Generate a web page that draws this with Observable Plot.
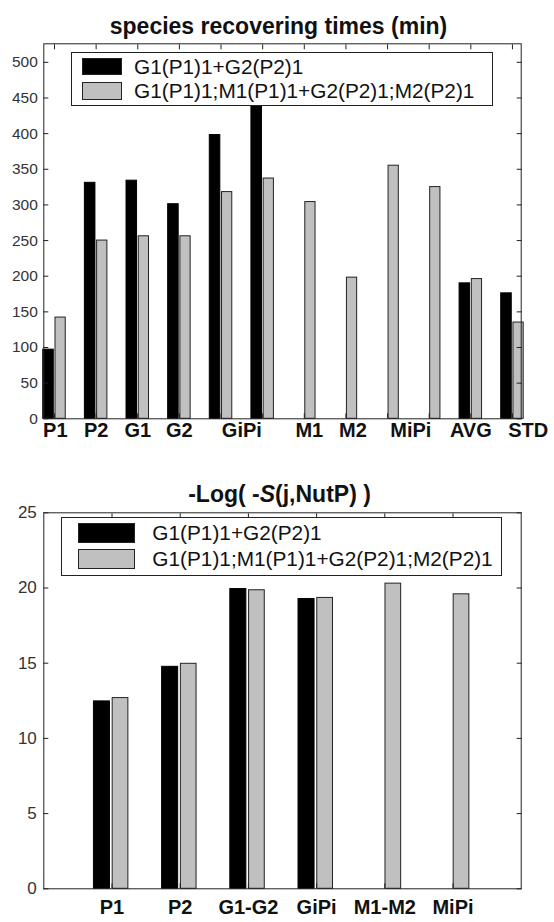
<!DOCTYPE html>
<html><head><meta charset="utf-8">
<script src="https://cdn.jsdelivr.net/npm/d3@7"></script>
<script src="https://cdn.jsdelivr.net/npm/@observablehq/plot@0.6"></script>
<style>
html,body{margin:0;padding:0;background:#fff;}
body{width:554px;height:922px;overflow:hidden;font-family:"Liberation Sans",Arial,sans-serif;}
.panel{position:relative;width:554px;}
.panel svg{display:block;}
.legend{position:absolute;background:#fff;border:1px solid #222;box-sizing:border-box;}
.sw{position:absolute;box-sizing:border-box;border:1px solid #222;}
.lt{position:absolute;font-size:20.8px;line-height:24px;color:#111;white-space:nowrap;}
</style></head><body>
<div id="top" class="panel"></div>
<div id="bottom" class="panel"></div>
<script>
// ---------- data: chart 1 ----------
const title1 = "species recovering times (min)";
const groups1 = [1, 2, 3, 4, 5, 6, 7, 8, 9, 10, 11, 12];
const recoverA = [97, 331, 334, 301, 398, 470, 0, 0, 0, 0, 190, 176];
const recoverB = [142, 250, 256, 256, 318, 337, 304, 198, 355, 325, 196, 135];
const labels1 = ["P1", "P2", "G1", "G2", "GiPi", "M1", "M2", "MiPi", "AVG", "STD"];
const labelPos1 = [1.02, 2, 3, 4, 5.5, 7.12, 8.17, 9.56, 11, 12.38];
const yTicks1 = [0, 50, 100, 150, 200, 250, 300, 350, 400, 450, 500];

// ---------- data: chart 2 ----------
const title2 = "-Log( -S(j,NutP) )";
const cats2 = ["P1", "P2", "G1-G2", "GiPi", "M1-M2", "MiPi"];
const groups2 = [1, 2, 3, 4, 5, 6];
const logA = [12.46, 14.76, 19.93, 19.27, 0, 0];
const logB = [12.68, 14.96, 19.85, 19.34, 20.29, 19.58];
const yTicks2 = [0, 5, 10, 15, 20, 25];

const seriesNames = ["G1(P1)1+G2(P2)1", "G1(P1)1;M1(P1)1+G2(P2)1;M2(P2)1"];
const seriesColors = ["#000000", "#c0c0c0"];

const FONT = "'Liberation Sans', Arial, sans-serif";
const blank = () => "";

// ---------- chart 1 ----------
const d1 = groups1.map((g, i) => ({g, a: recoverA[i], b: recoverB[i]}));
const p1 = Plot.plot({
  width: 554, height: 470,
  marginTop: 43.3, marginLeft: 43.3, marginRight: 33.3, marginBottom: 51.7,
  x: {domain: [0.743, 12.21]},
  y: {domain: [0, 526]},
  style: {fontFamily: FONT, background: "#fff", color: "#222"},
  marks: [
    Plot.rectY(d1.filter(d => d.a > 0), {x1: d => d.g - 0.27, x2: d => d.g - 0.017, y1: 0, y2: "a", fill: seriesColors[0], stroke: "#000", strokeWidth: 1}),
    Plot.rectY(d1.filter(d => d.b > 0), {x1: d => d.g + 0.024, x2: d => d.g + 0.27, y1: 0, y2: "b", fill: seriesColors[1], stroke: "#222", strokeWidth: 1}),
    Plot.axisY({anchor: "left", ticks: yTicks1, tickSize: 0, tickPadding: 6, fontSize: 15.5, fill: "#333", label: null}),
    Plot.axisY({anchor: "left", ticks: yTicks1, tickSize: -5, tickFormat: blank, label: null}),
    Plot.axisY({anchor: "right", ticks: yTicks1, tickSize: -5, tickFormat: blank, label: null}),
    Plot.axisX({anchor: "top", ticks: groups1, tickSize: -5, tickFormat: blank, label: null}),
    Plot.axisX({anchor: "bottom", ticks: groups1, tickSize: -5, tickFormat: blank, label: null}),
    Plot.frame({stroke: "#222"}),
    Plot.text(labels1, {x: (d, i) => labelPos1[i], text: d => d, frameAnchor: "bottom", lineAnchor: "bottom", dy: 17.7, fontSize: 20, fontWeight: "bold", fill: "#111"}),
    Plot.text([title1], {frameAnchor: "top", lineAnchor: "bottom", dy: -9.6, dx: -4, fontSize: 23, fontWeight: "bold", fill: "#111"})
  ]
});
document.getElementById("top").appendChild(p1);

// ---------- chart 2 ----------
const d2 = groups2.map((g, i) => ({g, a: logA[i], b: logB[i]}));
const p2 = Plot.plot({
  width: 554, height: 452,
  marginTop: 42.3, marginLeft: 43.3, marginRight: 33.3, marginBottom: 33.7,
  x: {domain: [0, 7]},
  y: {domain: [0, 25]},
  style: {fontFamily: FONT, background: "#fff", color: "#222"},
  marks: [
    Plot.rectY(d2.filter(d => d.a > 0), {x1: d => d.g - 0.265, x2: d => d.g - 0.03, y1: 0, y2: "a", fill: seriesColors[0], stroke: "#000", strokeWidth: 1}),
    Plot.rectY(d2.filter(d => d.b > 0), {x1: d => d.g + 0.01, x2: d => d.g + 0.24, y1: 0, y2: "b", fill: seriesColors[1], stroke: "#222", strokeWidth: 1}),
    Plot.axisY({anchor: "left", ticks: yTicks2, tickSize: 0, tickPadding: 7, fontSize: 17, fill: "#333", label: null}),
    Plot.axisY({anchor: "left", ticks: yTicks2, tickSize: -5, tickFormat: blank, label: null}),
    Plot.axisY({anchor: "right", ticks: yTicks2, tickSize: -5, tickFormat: blank, label: null}),
    Plot.axisX({anchor: "top", ticks: groups2, tickSize: -5, tickFormat: blank, label: null}),
    Plot.axisX({anchor: "bottom", ticks: groups2, tickSize: -5, tickFormat: blank, label: null}),
    Plot.frame({stroke: "#222"}),
    Plot.text(cats2, {x: (d, i) => groups2[i], text: d => d, frameAnchor: "bottom", lineAnchor: "bottom", dy: 25.5, fontSize: 20, fontWeight: "bold", fill: "#111"}),
    Plot.text([title2], {frameAnchor: "top", lineAnchor: "bottom", dy: -10.6, dx: -3, fontSize: 23, fontWeight: "bold", fill: "#111", className: "title2"})
  ]
});
document.getElementById("bottom").appendChild(p2);
// italic S in title 2
{
  const t = p2.querySelector(".title2 text");
  if (t) {
    const parts = ["-Log( -", "S", "(j,NutP) )"];
    t.textContent = "";
    parts.forEach((s, i) => {
      const ts = document.createElementNS("http://www.w3.org/2000/svg", "tspan");
      ts.textContent = s;
      if (i === 1) ts.setAttribute("font-style", "italic");
      t.appendChild(ts);
    });
  }
}

// ---------- legends ----------
function legend(panel, box, sw, textX, rows) {
  const lg = document.createElement("div");
  lg.className = "legend";
  Object.assign(lg.style, {left: box[0] + "px", top: box[1] + "px", width: box[2] + "px", height: box[3] + "px"});
  panel.appendChild(lg);
  seriesNames.forEach((name, i) => {
    const s = document.createElement("div");
    s.className = "sw";
    Object.assign(s.style, {left: sw[0] + "px", top: rows[i][0] + "px", width: sw[1] + "px", height: rows[i][1] + "px", background: seriesColors[i]});
    panel.appendChild(s);
    const t = document.createElement("div");
    t.className = "lt";
    t.textContent = name;
    Object.assign(t.style, {left: textX + "px", top: (rows[i][0] + rows[i][1] / 2 - 12) + "px"});
    panel.appendChild(t);
  });
}
legend(document.getElementById("top"), [70.7, 52.3, 422.6, 53.7], [82.3, 39.4], 134, [[58.3, 16.7], [82.3, 17.7]]);
legend(document.getElementById("bottom"), [60.7, 46.7, 441, 59.3], [77.7, 57.3], 152.3, [[52.7, 20.6], [79.3, 20]]);
</script>
</body></html>
